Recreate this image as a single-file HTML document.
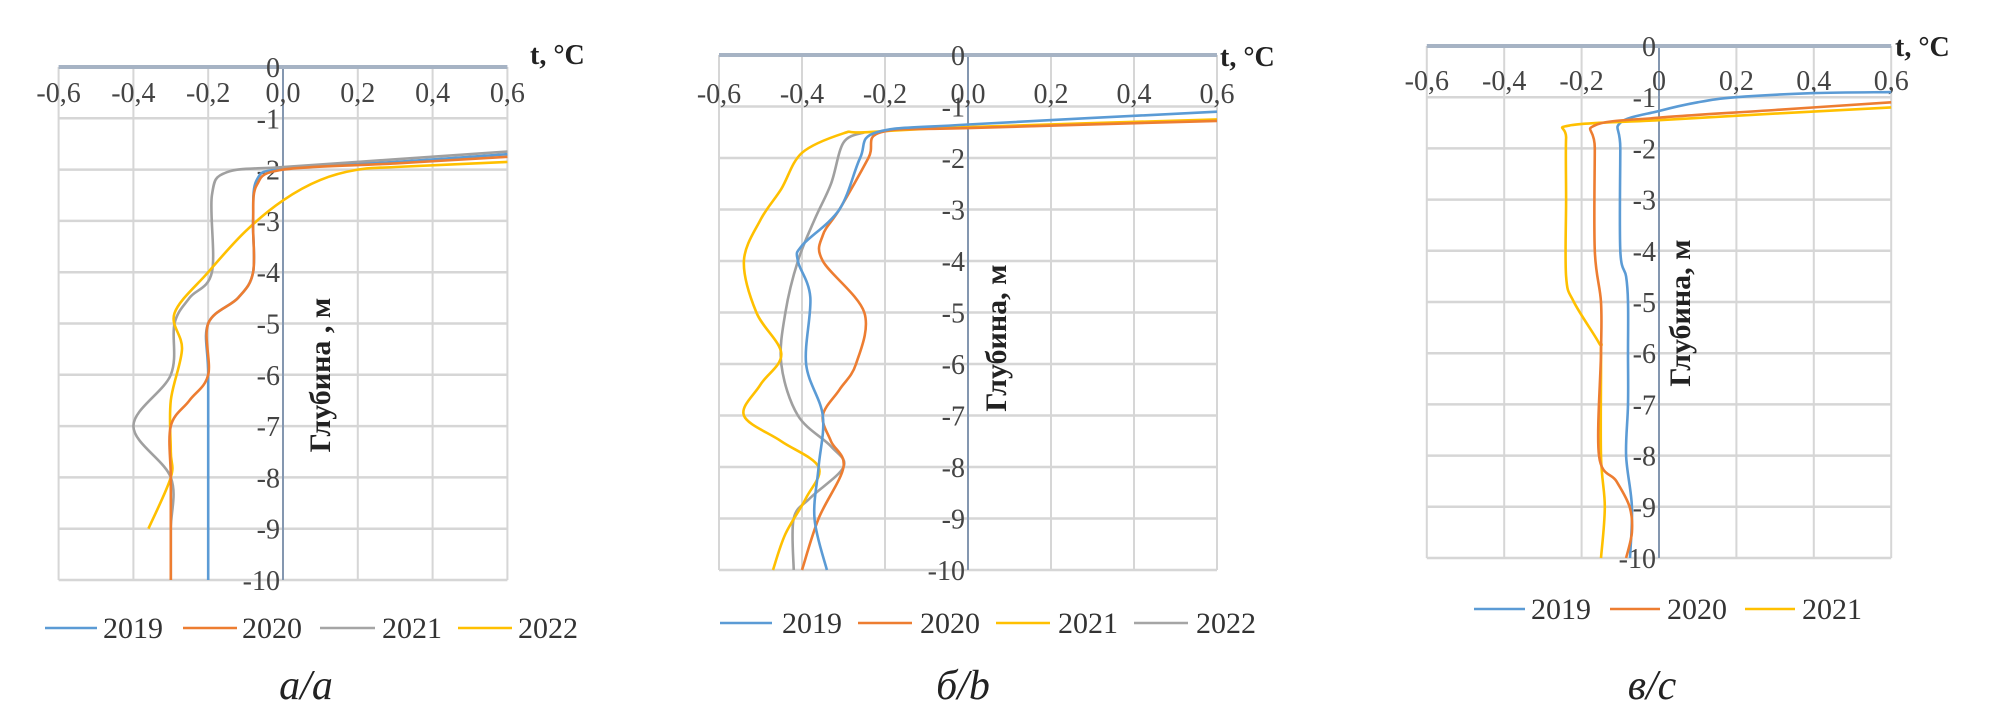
<!DOCTYPE html>
<html><head><meta charset="utf-8"><style>
html,body{margin:0;padding:0;background:#fff;}
svg{display:block;}
text{font-family:"Liberation Serif","DejaVu Serif",serif;}
</style></head><body>
<svg id="s" width="2001" height="707" viewBox="0 0 2001 707" xmlns="http://www.w3.org/2000/svg">
<g id="g"></g>
<text x="530" y="64" font-size="28" font-weight="bold" fill="#222">t, °C</text>
<text x="1220" y="66" font-size="28" font-weight="bold" fill="#222">t, °C</text>
<text x="1895" y="56" font-size="28" font-weight="bold" fill="#222">t, °C</text>
<text transform="translate(330,375) rotate(-90)" text-anchor="middle" font-size="30" font-weight="bold" fill="#222">Глубина , м</text>
<text transform="translate(1006,338) rotate(-90)" text-anchor="middle" font-size="30" font-weight="bold" fill="#222">Глубина, м</text>
<text transform="translate(1690,313) rotate(-90)" text-anchor="middle" font-size="30" font-weight="bold" fill="#222">Глубина, м</text>
<g font-size="30" fill="#333" stroke-width="2.5">
<line x1="45" y1="628" x2="97" y2="628" stroke="#5b9bd5"/><text x="103" y="638">2019</text>
<line x1="183" y1="628" x2="237" y2="628" stroke="#ed7d31"/><text x="242" y="638">2020</text>
<line x1="320" y1="628" x2="375" y2="628" stroke="#a5a5a5"/><text x="382" y="638">2021</text>
<line x1="458" y1="628" x2="512" y2="628" stroke="#ffc000"/><text x="518" y="638">2022</text>

<line x1="720" y1="623" x2="772" y2="623" stroke="#5b9bd5"/><text x="782" y="633">2019</text>
<line x1="858" y1="623" x2="912" y2="623" stroke="#ed7d31"/><text x="920" y="633">2020</text>
<line x1="996" y1="623" x2="1050" y2="623" stroke="#ffc000"/><text x="1058" y="633">2021</text>
<line x1="1134" y1="623" x2="1188" y2="623" stroke="#a5a5a5"/><text x="1196" y="633">2022</text>

<line x1="1474" y1="609" x2="1525" y2="609" stroke="#5b9bd5"/><text x="1531" y="619">2019</text>
<line x1="1610" y1="609" x2="1660" y2="609" stroke="#ed7d31"/><text x="1667" y="619">2020</text>
<line x1="1745" y1="609" x2="1795" y2="609" stroke="#ffc000"/><text x="1802" y="619">2021</text>
</g>
<g font-size="42" font-style="italic" fill="#222" text-anchor="middle">
<text x="306" y="699">а/а</text>
<text x="963" y="699">б/b</text>
<text x="1652" y="699">в/с</text>
</g>
</svg>
<script>
var NS="http://www.w3.org/2000/svg";
var g=document.getElementById("g");
function el(n,a,t){var e=document.createElementNS(NS,n);for(var k in a)e.setAttribute(k,a[k]);if(t!==undefined)e.textContent=t;g.appendChild(e);return e;}
function smooth(pts){
  var d="M"+pts[0][0].toFixed(1)+","+pts[0][1].toFixed(1);
  for(var i=0;i<pts.length-1;i++){
    var p0=pts[i-1]||pts[i],p1=pts[i],p2=pts[i+1],p3=pts[i+2]||p2;
    var c1=[p1[0]+(p2[0]-p0[0])/6,p1[1]+(p2[1]-p0[1])/6];
    var c2=[p2[0]-(p3[0]-p1[0])/6,p2[1]-(p3[1]-p1[1])/6];
    d+=" C"+c1[0].toFixed(1)+","+c1[1].toFixed(1)+" "+c2[0].toFixed(1)+","+c2[1].toFixed(1)+" "+p2[0].toFixed(1)+","+p2[1].toFixed(1);
  }
  return d;
}
function panel(P){
  var X=function(t){return P.x0+t*P.sx;}, Y=function(d){return P.y0+Math.abs(d)*P.sy;};
  for(var i=-3;i<=3;i++){var x=X(i*0.2);el("line",{x1:x,y1:Y(0),x2:x,y2:Y(10),stroke:"#d6d6d6","stroke-width":2});}
  for(var j=1;j<=10;j++){el("line",{x1:X(-0.6),y1:Y(j),x2:X(0.6),y2:Y(j),stroke:"#d6d6d6","stroke-width":2.5});}
  el("line",{x1:X(0),y1:Y(0),x2:X(0),y2:Y(10),stroke:"#8497b0","stroke-width":2});
  el("line",{x1:X(-0.6),y1:Y(0),x2:X(0.6),y2:Y(0),stroke:"#a6b3c4","stroke-width":4});
  for(var i=-3;i<=3;i++){el("text",{x:X(i*0.2),y:P.ly,"font-size":28,"text-anchor":"middle",fill:"#444"},P.xl[i+3]);}
  for(var j=0;j<=10;j++){el("text",{x:X(0)-3,y:Y(j)+10,"font-size":28,"text-anchor":"end",fill:"#444"},j==0?"0":"-"+j);}
  P.series.forEach(function(s){
    var pts=s.p.map(function(q){return [X(q[0]),Y(q[1])];});
    el("path",{d:smooth(pts),fill:"none",stroke:s.c,"stroke-width":2.6,"stroke-linejoin":"round"});
  });
}
var B="#5b9bd5",O="#ed7d31",G="#a0a0a0",Yl="#ffc000";
var XL=["-0,6","-0,4","-0,2","0,0","0,2","0,4","0,6"];
panel({x0:283,sx:374,y0:67,sy:51.3,ly:102,xl:XL,series:[
 {c:B,p:[[0.6,-1.7],[0.3,-1.85],[0,-1.98],[-0.07,-2.2],[-0.08,-3],[-0.08,-4],[-0.12,-4.5],[-0.2,-5],[-0.2,-6],[-0.2,-8],[-0.2,-10]]},
 {c:G,p:[[0.6,-1.65],[0.3,-1.8],[0,-1.95],[-0.15,-2.05],[-0.19,-2.5],[-0.19,-4],[-0.25,-4.5],[-0.29,-5],[-0.3,-6],[-0.4,-7],[-0.3,-8],[-0.3,-9],[-0.3,-10]]},
 {c:Yl,p:[[0.6,-1.85],[0.3,-1.95],[0.2,-2],[0.1,-2.2],[0,-2.6],[-0.1,-3.2],[-0.2,-4],[-0.29,-4.8],[-0.27,-5.5],[-0.3,-6.5],[-0.3,-7.5],[-0.3,-8],[-0.36,-9]]},
 {c:O,p:[[0.6,-1.75],[0.3,-1.88],[0,-2],[-0.07,-2.3],[-0.08,-3],[-0.08,-4],[-0.12,-4.5],[-0.2,-5],[-0.2,-6],[-0.25,-6.5],[-0.3,-7],[-0.3,-8],[-0.3,-9],[-0.3,-10]]}
]});
panel({x0:968,sx:415,y0:55,sy:51.5,ly:103,xl:XL,series:[
 {c:G,p:[[-0.25,-1.5],[-0.3,-1.7],[-0.33,-2.5],[-0.37,-3.2],[-0.41,-4],[-0.44,-5],[-0.45,-6],[-0.41,-7],[-0.33,-7.6],[-0.3,-8],[-0.38,-8.6],[-0.42,-9],[-0.42,-10]]},
 {c:Yl,p:[[0.6,-1.25],[0,-1.4],[-0.25,-1.5],[-0.3,-1.52],[-0.4,-1.9],[-0.45,-2.6],[-0.5,-3.2],[-0.54,-4],[-0.51,-5],[-0.45,-5.8],[-0.5,-6.4],[-0.54,-7],[-0.45,-7.5],[-0.36,-8],[-0.39,-8.6],[-0.44,-9.3],[-0.47,-10]]},
 {c:O,p:[[0.6,-1.28],[0,-1.42],[-0.21,-1.5],[-0.24,-2],[-0.31,-3],[-0.35,-3.5],[-0.35,-4],[-0.25,-5],[-0.27,-6],[-0.31,-6.5],[-0.35,-7],[-0.33,-7.5],[-0.3,-8],[-0.36,-9],[-0.4,-10]]},
 {c:B,p:[[0.6,-1.1],[0,-1.35],[-0.22,-1.5],[-0.26,-2],[-0.31,-3],[-0.4,-3.7],[-0.41,-4],[-0.38,-4.7],[-0.39,-6],[-0.35,-7],[-0.36,-8],[-0.37,-9],[-0.34,-10]]}
]});
panel({x0:1659,sx:387,y0:46,sy:51.2,ly:90,xl:["-0,6","-0,4","-0,2","0","0,2","0,4","0,6"],series:[
 {c:B,p:[[0.6,-0.9],[0.4,-0.92],[0.2,-1.0],[0.1,-1.1],[0,-1.27],[-0.1,-1.5],[-0.1,-2],[-0.1,-4],[-0.085,-4.5],[-0.08,-5],[-0.08,-6],[-0.08,-7],[-0.085,-8],[-0.07,-9],[-0.075,-10]]},
 {c:Yl,p:[[0.6,-1.2],[0.3,-1.32],[0,-1.45],[-0.23,-1.55],[-0.24,-1.8],[-0.24,-3],[-0.24,-4.5],[-0.22,-5],[-0.155,-5.8],[-0.15,-6],[-0.15,-8],[-0.14,-9],[-0.15,-10]]},
 {c:O,p:[[0.6,-1.1],[0.3,-1.25],[0,-1.4],[-0.166,-1.55],[-0.166,-2],[-0.166,-4],[-0.15,-5],[-0.15,-6],[-0.155,-8],[-0.11,-8.5],[-0.076,-9],[-0.07,-9.5],[-0.085,-10]]}
]});
</script>
</body></html>
